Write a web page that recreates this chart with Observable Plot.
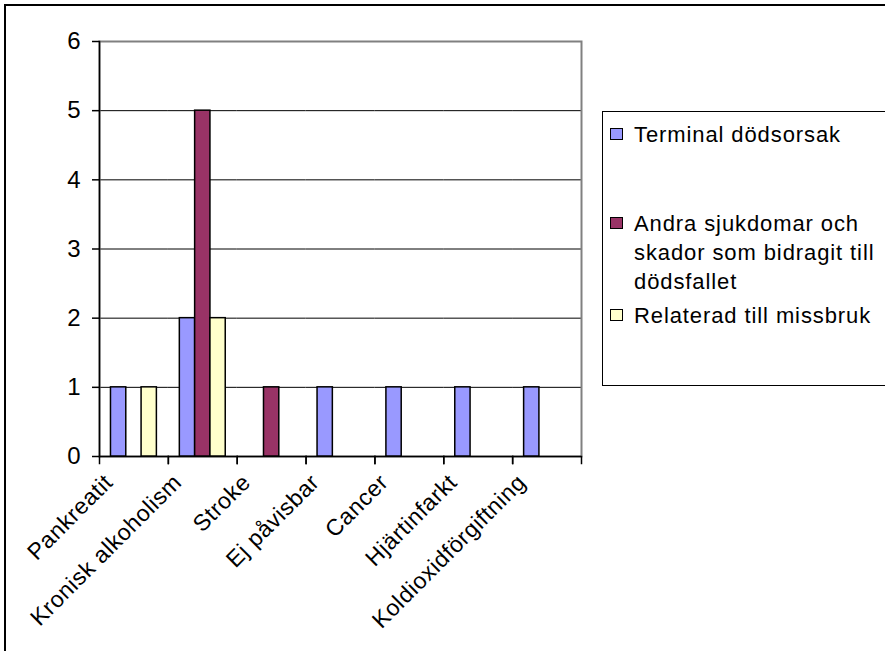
<!DOCTYPE html>
<html>
<head>
<meta charset="utf-8">
<script src="https://cdn.jsdelivr.net/npm/d3@7"></script>
<script src="https://cdn.jsdelivr.net/npm/@observablehq/plot@0.6"></script>
<style>
  html, body { margin: 0; padding: 0; background: #fff; }
  #wrap { position: relative; width: 885px; height: 651px; overflow: hidden; font-family: Arial, "Liberation Sans", sans-serif; }
  #outer { position: absolute; left: 4px; top: 4px; width: 900px; height: 700px; border-top: 2px solid #000; border-left: 2px solid #000; }
  #chart { position: absolute; left: 0; top: 0; }
  #legend { position: absolute; left: 602px; top: 111px; width: 290px; height: 273px; border: 1px solid #000; background: #fff; }
  .item { position: absolute; left: 8px; font-size: 22px; line-height: 29px; letter-spacing: 0.9px; color: #000; }
  .sw { position: absolute; left: -1px; width: 11px; height: 10px; border: 1px solid #000; }
  .lbl { position: absolute; left: 23px; white-space: normal; width: 250px; }
  #chart svg g[aria-label="fx-axis tick label"] text { letter-spacing: 0.6px; }
</style>
</head>
<body>
<div id="wrap">
  <div id="outer"></div>
  <div id="chart"></div>
  <div id="legend"></div>
</div>
<script>
const categories = ["Pankreatit", "Kronisk alkoholism", "Stroke", "Ej påvisbar", "Cancer", "Hjärtinfarkt", "Koldioxidförgiftning"];
const seriesNames = ["Terminal dödsorsak", "Andra sjukdomar och skador som bidragit till dödsfallet", "Relaterad till missbruk"];
const terminal = [1, 2, 0, 1, 1, 1, 1];
const andra = [0, 5, 1, 0, 0, 0, 0];
const relaterad = [1, 2, 0, 0, 0, 0, 0];
const colors = ["#9999FF", "#993366", "#FFFFCC"];
const yTicks = [0, 1, 2, 3, 4, 5, 6];

const seriesValues = [terminal, andra, relaterad];
const rows = [];
categories.forEach((c, i) => {
  seriesNames.forEach((s, j) => {
    const v = seriesValues[j][i];
    if (v > 0) rows.push({cat: c, series: s, value: v});
  });
});

const W = 885, H = 651, mL = 99, mT = 41, mR = 304, mB = 195;
const innerH = H - mT - mB;

const plot = Plot.plot({
  width: W,
  height: H,
  marginLeft: mL,
  marginTop: mT,
  marginRight: mR,
  marginBottom: mB,
  style: {fontFamily: "Arial, 'Liberation Sans', sans-serif", fontSize: "22px", color: "#000", background: "transparent"},
  fx: {domain: categories, padding: 0, round: false, label: null},
  x: {domain: seriesNames, paddingInner: 0, paddingOuter: 0.75, round: false, axis: null},
  y: {domain: [0, 6], label: null},
  color: {domain: seriesNames, range: colors},
  marks: [
    Plot.ruleY([1, 2, 3, 4, 5], {stroke: "#000", strokeWidth: 1}),
    Plot.frame({facet: "super", stroke: "#808080", strokeWidth: 2}),
    Plot.frame({facet: "super", anchor: "left", stroke: "#000", strokeWidth: 1.5}),
    Plot.ruleY([0], {stroke: "#000", strokeWidth: 1.5}),
    Plot.frame({anchor: "left", insetTop: innerH, insetBottom: -7, stroke: "#000", strokeWidth: 1.5}),
    Plot.frame({anchor: "right", insetTop: innerH, insetBottom: -7, stroke: "#000", strokeWidth: 1.5}),
    Plot.barY(rows, {fx: "cat", x: "series", y: "value", fill: "series", stroke: "#000", strokeWidth: 1.5}),
    Plot.axisY(yTicks, {anchor: "left", tickSize: 7, tickPadding: 12, tickFormat: d => String(d), label: null, stroke: "#000", strokeWidth: 1.5, fontSize: 24}),
    Plot.axisFx({anchor: "bottom", tickSize: 0, tickPadding: 22, tickRotate: -45, dx: -25, label: null, fontSize: 23})
  ]
});
document.getElementById("chart").appendChild(plot);

const legend = document.getElementById("legend");
const itemTops = [8, 97, 189];
seriesNames.forEach((s, j) => {
  const it = document.createElement("div");
  it.className = "item";
  it.style.top = itemTops[j] + "px";
  const sw = document.createElement("div");
  sw.className = "sw";
  sw.style.background = colors[j];
  sw.style.top = "8px";
  const lb = document.createElement("div");
  lb.className = "lbl";
  lb.textContent = s;
  it.appendChild(sw);
  it.appendChild(lb);
  legend.appendChild(it);
});
</script>
</body>
</html>
